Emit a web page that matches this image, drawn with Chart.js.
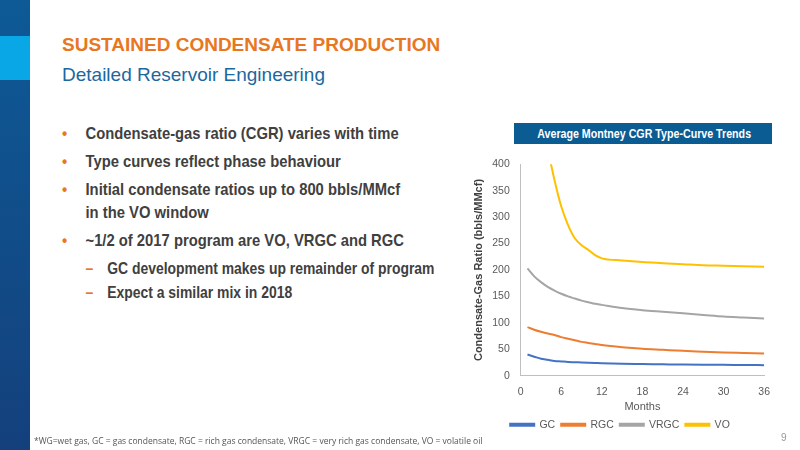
<!DOCTYPE html>
<html>
<head>
<meta charset="utf-8">
<script src="https://cdn.jsdelivr.net/npm/chart.js@4"></script>
<style>
body { margin: 0; width: 800px; height: 450px; position: relative; background: #fff; font-family: "Liberation Sans", Arial, sans-serif; overflow: hidden; }
.strip { position: absolute; left: 0; top: 0; width: 30px; height: 450px; background: linear-gradient(#0d5a96, #14407c); }
.sq { position: absolute; left: 0; top: 36px; width: 30px; height: 44px; background: #0aa7e6; }
.t1 { position: absolute; left: 62px; top: 34px; color: #e87722; font-weight: bold; font-size: 19px; }
.t2 { position: absolute; left: 62px; top: 64px; color: #1b67a0; font-size: 19px; }
ul { position: absolute; left: 62px; top: 122px; margin: 0; padding: 0; list-style: none; font-weight: bold; font-size: 17px; color: #404040; width: 480px; transform: scaleX(0.87); transform-origin: left top; }
li { position: relative; padding-left: 27px; line-height: 23px; margin-bottom: 5px; }
li:before { content: "\2022"; color: #e87722; position: absolute; left: 0; }
li.sub { padding-left: 52px; font-size: 16px; margin-bottom: 1px; }
li.sub:before { content: "\2013"; left: 27px; }
.bar { position: absolute; left: 514px; top: 123px; width: 258px; height: 21px; background: #0b5c93; }
.bar span { display: block; color: #fff; font-weight: bold; font-size: 13px; text-align: center; line-height: 21px; transform: scaleX(0.82); white-space: nowrap; }
#wrap { position: absolute; left: 468px; top: 155px; width: 304px; height: 285px; }
.foot { position: absolute; left: 34px; top: 435px; font-size: 8.5px; color: #555; font-family: "Open Sans", sans-serif; }
.pg { position: absolute; left: 781px; top: 432px; font-size: 10px; color: #999; }
</style>
</head>
<body>
<div class="strip"></div><div class="sq"></div>
<div class="t1">SUSTAINED CONDENSATE PRODUCTION</div>
<div class="t2">Detailed Reservoir Engineering</div>
<ul>
<li>Condensate-gas ratio (CGR) varies with time</li>
<li>Type curves reflect phase behaviour</li>
<li>Initial condensate ratios up to 800 bbls/MMcf<br>in the VO window</li>
<li>~1/2 of 2017 program are VO, VRGC and RGC</li>
<li class="sub">GC development makes up remainder of program</li>
<li class="sub">Expect a similar mix in 2018</li>
</ul>
<div class="bar"><span>Average Montney CGR Type-Curve Trends</span></div>
<div id="wrap"><canvas id="cgrChart"></canvas></div>
<div class="foot">*WG=wet gas, GC = gas condensate, RGC = rich gas condensate, VRGC = very rich gas condensate, VO = volatile oil</div>
<div class="pg">9</div>
<script>
let months = [1, 2, 3, 4, 5, 6, 7, 8, 9, 10, 11, 12, 15, 18, 21, 24, 27, 30, 33, 36]
let gcValues = [40, 36, 32, 30, 28, 27, 26, 25.5, 25, 24.5, 24, 23.5, 22.5, 22, 21.5, 21, 20.7, 20.5, 20.2, 20]
let rgcValues = [92, 87, 83, 80, 77, 73, 70, 67, 64, 62, 60, 58, 54, 51, 49, 47, 45.5, 44, 43, 42]
let vrgcValues = [203, 188, 177, 168, 161, 155, 150, 146, 142, 139, 136, 134, 128, 124, 121, 118, 115, 112, 110, 108]
let voValues = [720, 600, 500, 430, 370, 320, 285, 260, 247, 238, 228, 222, 218, 215, 213, 211, 209, 208, 207, 206]
let seriesNames = ["GC", "RGC", "VRGC", "VO"]
let lineColors = ["#4472c4", "#ed7d31", "#a5a5a5", "#ffc000"]

function pts(vals) {
    return months.map((m, i) => ({x: m, y: vals[i]}))
}

let allValues = [gcValues, rgcValues, vrgcValues, voValues]

new Chart("cgrChart", {
    type: "line",
    data: {
        datasets: allValues.map((v, i) => ({
            label: seriesNames[i],
            data: pts(v),
            borderColor: lineColors[i],
            backgroundColor: lineColors[i],
            borderWidth: 2,
            pointRadius: 0,
            cubicInterpolationMode: "monotone",
            fill: false
        }))
    },
    options: {
        maintainAspectRatio: false,
        animation: false,
        layout: { padding: { top: 2 } },
        plugins: {
            legend: {
                position: "bottom",
                labels: { boxWidth: 24, boxHeight: 2, color: "#595959", font: { size: 10.5 }, padding: 6 }
            },
            tooltip: { enabled: false }
        },
        scales: {
            x: {
                type: "linear", min: 0, max: 36,
                ticks: { stepSize: 6, color: "#595959", font: { size: 10.5 }, padding: 2 },
                grid: { display: false },
                border: { color: "#bfbfbf" },
                title: { display: true, text: "Months", color: "#595959", font: { size: 11 }, padding: { top: 0, bottom: 0 } }
            },
            y: {
                min: 0, max: 400,
                ticks: { stepSize: 50, color: "#595959", font: { size: 10.5 } },
                grid: { display: false },
                border: { color: "#bfbfbf" },
                title: { display: true, text: "Condensate-Gas Ratio (bbls/MMcf)", color: "#404040", font: { size: 11, weight: "bold" } }
            }
        }
    }
})
</script>
</body>
</html>
